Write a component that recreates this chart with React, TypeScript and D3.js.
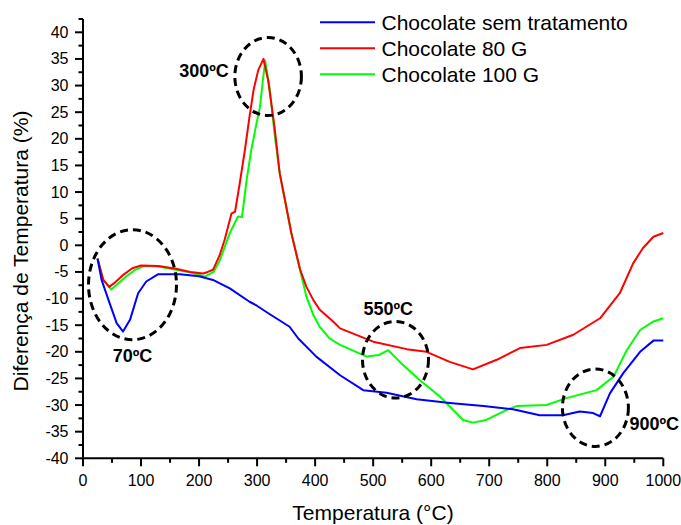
import React from "react";
import * as d3 from "d3";

const blueT = [25, 32, 46, 58, 69, 81, 95, 109, 129, 167, 200, 224, 253, 287, 299, 320, 356, 371, 402, 443, 483, 523, 575, 632, 690, 741, 787, 827, 856, 879, 891, 908, 931, 960, 983, 1000];
const blueV = [-2.5, -6.5, -10.9, -14.6, -16.2, -14, -9, -6.8, -5.45, -5.45, -5.8, -6.5, -8.1, -10.6, -11.3, -12.8, -15.3, -17.5, -20.9, -24.4, -27.2, -27.7, -28.9, -29.6, -30.2, -30.8, -31.9, -31.9, -31.2, -31.5, -32.1, -27.8, -24.0, -20.0, -17.9, -17.9];

const redT = [25, 35, 45, 55, 70, 85, 100, 130, 160, 185, 207, 215, 224, 235, 244, 256, 262, 270, 279, 287, 294, 302, 311, 319, 330, 339, 348, 359, 374, 385, 397, 408, 431, 443, 500, 558, 592, 632, 672, 713, 753, 799, 845, 891, 925, 948, 965, 983, 1000];
const redV = [-2.5, -6.5, -7.8, -7, -5.5, -4.3, -3.8, -3.9, -4.4, -5, -5.3, -5, -4.6, -2, 1.0, 6.0, 6.3, 11.6, 17.9, 24.2, 29.2, 32.9, 35.0, 31.0, 22.3, 13.5, 8.5, 2.3, -4.5, -7.8, -10.3, -12.1, -14.3, -15.6, -18.1, -19.5, -20.0, -21.9, -23.3, -21.5, -19.3, -18.7, -16.8, -13.7, -9.0, -3.4, -0.5, 1.6, 2.3];

const greenT = [25, 35, 49, 60, 75, 90, 105, 130, 160, 190, 210, 225, 235, 253, 267, 274, 282, 290, 299, 305, 310, 314, 322, 330, 339, 348, 359, 374, 385, 397, 408, 425, 443, 489, 510, 526, 546, 580, 615, 655, 672, 695, 730, 747, 799, 833, 885, 914, 937, 960, 983, 1000];
const greenV = [-2.5, -6.5, -8.3, -7.2, -5.8, -4.6, -3.9, -4.0, -4.6, -5.2, -5.9, -5.0, -3.0, 2.3, 5.4, 5.3, 12.3, 17.9, 22.9, 26.0, 31.0, 34.7, 29.2, 21.0, 13.5, 8.5, 2.3, -4.6, -9.65, -13.1, -15.3, -17.5, -18.7, -20.9, -20.6, -19.7, -21.9, -25.3, -28.4, -32.8, -33.3, -32.8, -30.9, -30.2, -30.0, -28.7, -27.2, -24.7, -19.7, -15.9, -14.3, -13.7];

const seriesNames = ["Chocolate sem tratamento", "Chocolate 80 G", "Chocolate 100 G"];
const seriesColors = ["#0000ff", "#ff0000", "#00ff00"];

const xMajorTicks = [0, 100, 200, 300, 400, 500, 600, 700, 800, 900, 1000];
const yMajorTicks = [-40, -35, -30, -25, -20, -15, -10, -5, 0, 5, 10, 15, 20, 25, 30, 35, 40];

const annotLabels = ["70ºC", "300ºC", "550ºC", "900ºC"];
const annotCenterT = [85.3, 319, 538.5, 883];
const annotCenterV = [-7.4, 31.7, -21.5, -30.5];

const W = 681;
const H = 525;

export default function App() {
  const x = d3.scaleLinear().domain([0, 1000]).range([83, 663.3]);
  const y = d3.scaleLinear().domain([-40, 42.5]).range([458.3, 19]);

  const series = [
    blueT.map((t, i) => [t, blueV[i]]),
    redT.map((t, i) => [t, redV[i]]),
    greenT.map((t, i) => [t, greenV[i]]),
  ];
  const line = d3
    .line<number[]>()
    .x((d) => x(d[0]))
    .y((d) => y(d[1]))
    .curve(d3.curveLinear);

  const xMinor = d3.range(0, 1001, 50).filter((v) => v % 100 !== 0);
  const yMinor = d3.range(-40, 42.6, 2.5).filter((v) => Math.abs(v % 5) > 0.01);

  const font = "'Liberation Sans', Arial, Helvetica, sans-serif";

  const ellipses = [
    { rx: 44, ry: 55 },
    { rx: 33.3, ry: 39 },
    { rx: 33, ry: 38.3 },
    { rx: 33, ry: 38.7 },
  ];
  const labelPos = [
    { dx: 0, dy: 71, anchor: "middle" },
    { dx: -39.3, dy: -6, anchor: "end" },
    { dx: -32, dy: -51, anchor: "start" },
    { dx: 34, dy: 16.5, anchor: "start" },
  ];

  return (
    <svg
      width={W}
      height={H}
      style={{ position: "absolute", left: 0, top: 0, background: "#fff" }}
    >
      <rect x={0} y={0} width={W} height={H} fill="#fff" />
      {[2, 1, 0].map((i) => (
        <path
          key={i}
          d={line(series[i]) || ""}
          fill="none"
          stroke={seriesColors[i]}
          strokeWidth={2}
          strokeLinejoin="round"
        />
      ))}
      {annotLabels.map((lab, i) => {
        const cx = x(annotCenterT[i]);
        const cy = y(annotCenterV[i]);
        return (
          <g key={lab}>
            <ellipse
              cx={cx}
              cy={cy}
              rx={ellipses[i].rx}
              ry={ellipses[i].ry}
              fill="none"
              stroke="#000"
              strokeWidth={3}
              strokeDasharray="8,5"
            />
            <text
              x={cx + labelPos[i].dx}
              y={cy + labelPos[i].dy}
              textAnchor={labelPos[i].anchor as any}
              fontFamily={font}
              fontWeight="bold"
              fontSize={18}
              fill="#000"
              dominantBaseline="central"
            >
              {lab}
            </text>
          </g>
        );
      })}
      <line x1={x(0)} x2={x(0)} y1={y(42.5)} y2={y(-40)} stroke="#000" strokeWidth={2} />
      <line x1={x(0) - 1} x2={x(1000)} y1={y(-40)} y2={y(-40)} stroke="#000" strokeWidth={2} />
      {yMajorTicks.map((v) => (
        <g key={"ym" + v}>
          <line x1={x(0) - 8} x2={x(0)} y1={y(v)} y2={y(v)} stroke="#000" strokeWidth={2} />
          <text
            x={68.5}
            y={y(v)}
            textAnchor="end"
            dominantBaseline="central"
            fontFamily={font}
            fontSize={16}
            fill="#000"
          >
            {v}
          </text>
        </g>
      ))}
      {yMinor.map((v) => (
        <line key={"yn" + v} x1={x(0) - 4.5} x2={x(0)} y1={y(v)} y2={y(v)} stroke="#000" strokeWidth={2} />
      ))}
      {xMajorTicks.map((t) => (
        <g key={"xm" + t}>
          <line x1={x(t)} x2={x(t)} y1={y(-40)} y2={y(-40) + 8} stroke="#000" strokeWidth={2} />
          <text
            x={x(t)}
            y={486}
            textAnchor="middle"
            fontFamily={font}
            fontSize={16}
            fill="#000"
          >
            {t}
          </text>
        </g>
      ))}
      {xMinor.map((t) => (
        <line key={"xn" + t} x1={x(t)} x2={x(t)} y1={y(-40)} y2={y(-40) + 4.5} stroke="#000" strokeWidth={2} />
      ))}
      <text
        x={373}
        y={520}
        textAnchor="middle"
        fontFamily={font}
        fontSize={21}
        fill="#000"
      >
        Temperatura (°C)
      </text>
      <text
        transform={`translate(28,251) rotate(-90)`}
        textAnchor="middle"
        fontFamily={font}
        fontSize={21}
        fill="#000"
      >
        Diferença de Temperatura (%)
      </text>
      {seriesNames.map((n, i) => (
        <g key={n}>
          <line x1={320} x2={375} y1={22.3 + i * 26} y2={22.3 + i * 26} stroke={seriesColors[i]} strokeWidth={2} />
          <text
            x={381.5}
            y={22.3 + i * 26}
            dominantBaseline="central"
            fontFamily={font}
            fontSize={21}
            fill="#000"
          >
            {n}
          </text>
        </g>
      ))}
    </svg>
  );
}
